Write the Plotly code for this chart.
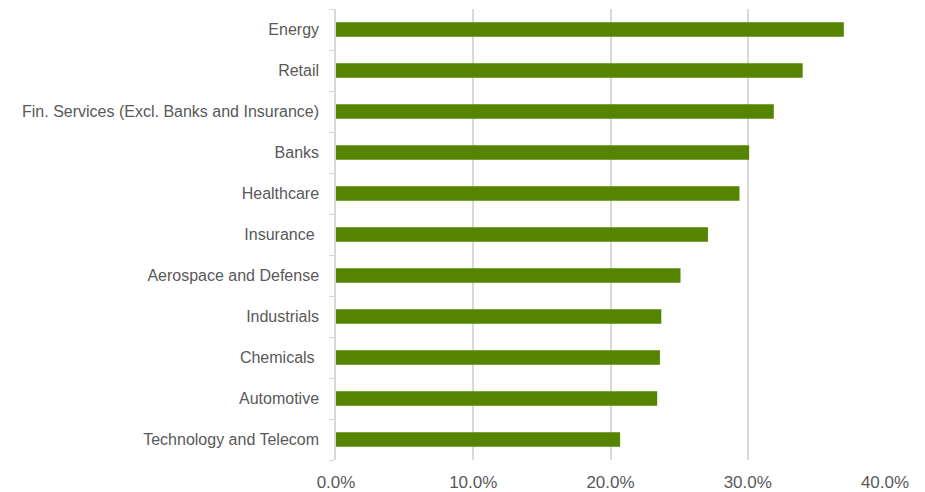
import plotly.graph_objects as go

categories = ["Technology and Telecom", "Automotive", "Chemicals ", "Industrials",
              "Aerospace and Defense", "Insurance ", "Healthcare", "Banks",
              "Fin. Services (Excl. Banks and Insurance)", "Retail", "Energy"]
values = [0.207, 0.234, 0.236, 0.237, 0.251, 0.271, 0.294, 0.301, 0.319, 0.340, 0.370]
x_ticks = [0.0, 0.1, 0.2, 0.3, 0.4]
x_tick_labels = ["0.0%", "10.0%", "20.0%", "30.0%", "40.0%"]

fig = go.Figure(go.Bar(
    y=categories, x=values, orientation="h",
    marker=dict(color="#558500", line=dict(width=0)),
))

fig.update_layout(
    width=917, height=484,
    margin=dict(l=328, r=40, t=1, b=32),
    paper_bgcolor="white", plot_bgcolor="white",
    bargap=0.65,
    showlegend=False,
    font=dict(family="Liberation Sans, Arial, sans-serif", color="#595959"),
)
fig.update_xaxes(
    range=[0, 0.4], tickvals=x_ticks, ticktext=x_tick_labels,
    showgrid=True, gridcolor="#d9d9d9", gridwidth=2,
    zeroline=False, showline=False, ticks="",
    ticklabelstandoff=10,
    tickfont=dict(size=17, color="#595959"), automargin=False,
)
fig.update_yaxes(
    showline=True, linecolor="#d9d9d9", linewidth=1.5,
    ticks="outside", tickson="boundaries", ticklen=5, tickcolor="#d9d9d9",
    showgrid=False, ticklabelstandoff=12, automargin=False,
    tickfont=dict(size=16, color="#595959"),
)

fig.write_html("out.html")
